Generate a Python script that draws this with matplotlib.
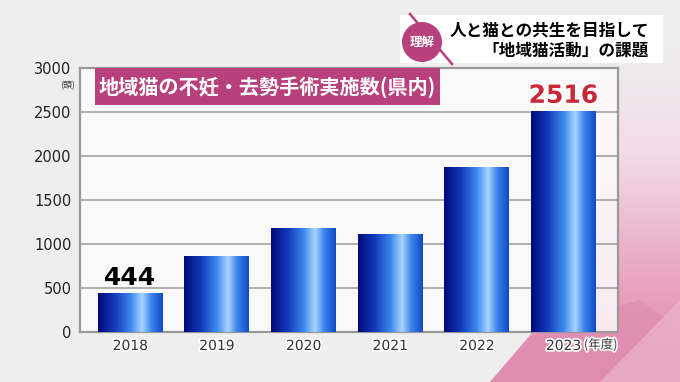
import matplotlib.pyplot as plt
import matplotlib.patheffects as pe
from matplotlib.patches import Polygon, Rectangle, Ellipse
from matplotlib.colors import LinearSegmentedColormap
import numpy as np

plt.rcParams['font.family'] = ['Noto Sans CJK JP', 'DejaVu Sans']

years = ['2018', '2019', '2020', '2021', '2022', '2023']
counts = [444, 860, 1180, 1115, 1875, 2516]
yticks = [0, 500, 1000, 1500, 2000, 2500, 3000]

W, H = 680, 382
fig = plt.figure(figsize=(6.8, 3.82), dpi=100)
fig.patch.set_facecolor('#eeeeee')

# background layer in pixel coordinates (y down)
bg = fig.add_axes([0, 0, 1, 1], zorder=-1)
bg.set_xlim(0, W)
bg.set_ylim(H, 0)
bg.axis('off')
pink_cmap = LinearSegmentedColormap.from_list('pk', ['#eeeeee', '#f2dbe6', '#e9a9c5', '#df86ad'])
vgrad = np.linspace(0, 1, 256).reshape(-1, 1)
im = bg.imshow(vgrad, cmap=pink_cmap, aspect='auto', extent=[480, 680, 382, 40], zorder=0)
clip = Polygon([(600, 40), (680, 40), (680, 382), (490, 382), (560, 300), (600, 200)],
               closed=True, transform=bg.transData, facecolor='none')
im.set_clip_path(clip)
bg.add_patch(Polygon([(490, 382), (545, 325), (640, 300), (680, 330), (680, 382)],
                     closed=True, facecolor='#e08cb0', edgecolor='none', alpha=0.7, zorder=1))
bg.add_patch(Polygon([(600, 382), (680, 300), (680, 382)],
                     closed=True, facecolor='#eab0c9', edgecolor='none', alpha=0.8, zorder=1))

ax = fig.add_axes([80 / W, (H - 332) / H, 538 / W, 264 / H], zorder=2)
ax.set_facecolor((0.985, 0.985, 0.985, 0.85))

bars = ax.bar(range(len(years)), counts, width=0.75, color='none', zorder=3)
grad_cmap = LinearSegmentedColormap.from_list('barg', [
    (0.0, '#000a78'), (0.25, '#1238b8'), (0.5, '#3a86ee'),
    (0.68, '#a9d4ff'), (0.82, '#3c86ea'), (1.0, '#1048c8')])
grad = np.linspace(0, 1, 256).reshape(1, -1)
for b in bars:
    x0, w, h = b.get_x(), b.get_width(), b.get_height()
    g = ax.imshow(grad, cmap=grad_cmap, aspect='auto',
                  extent=[x0, x0 + w, 0, h], zorder=3)
    g.set_clip_path(b)
ax.set_xlim(-0.58, 5.63)
ax.set_ylim(0, 3000)

narrow = dict(family=['DejaVu Sans'])
ax.set_yticks(yticks)
ax.set_yticklabels([str(v) for v in yticks], fontsize=10.5, color='#222222', **narrow)
ax.set_xticks(range(len(years)))
ax.set_xticklabels(years, fontsize=10, color='#333333', **narrow)
for lab in ax.get_xticklabels():
    lab.set_path_effects([pe.withStroke(linewidth=2.5, foreground='white')])
ax.tick_params(length=0, pad=6)
ax.tick_params(axis='x', pad=5)
ax.yaxis.grid(True, color='#aaaaaa', linewidth=1.3, zorder=1)
ax.set_axisbelow(True)
for s in ax.spines.values():
    s.set_color('#999999')
    s.set_linewidth(1.6)

ax.annotate(str(counts[0]), xy=(0, counts[0]), xytext=(0, 2),
            textcoords='offset points', ha='center', va='bottom',
            fontsize=18, fontweight='bold', color='black', **narrow)
ax.annotate(str(counts[-1]), xy=(5, counts[-1]), xytext=(0, 2),
            textcoords='offset points', ha='center', va='bottom',
            fontsize=18, fontweight='bold', color='#c82838', **narrow,
            path_effects=[pe.withStroke(linewidth=3, foreground='white')])

fig.text(584 / W, 1 - 345 / H, '(年度)', fontsize=9, color='#333333',
         ha='left', va='center', zorder=6,
         path_effects=[pe.withStroke(linewidth=2.5, foreground='white')])
fig.text(75 / W, 1 - 86 / H, '(頭)', fontsize=6.5, ha='right', va='center',
         color='#333333', zorder=6)

# title box
fig.patches.append(Rectangle((95 / W, 1 - 105 / H), 345 / W, 37 / H,
                             transform=fig.transFigure, facecolor='#b8407c',
                             edgecolor='none', zorder=5))
fig.text(267 / W, 1 - 87 / H, '地域猫の不妊・去勢手術実施数(県内)', fontsize=14.5,
         fontweight='bold', color='white', ha='center', va='center', zorder=6)

# header
fig.patches.append(Rectangle((400 / W, 1 - 63 / H), 263 / W, 48 / H,
                             transform=fig.transFigure, facecolor='white',
                             edgecolor='none', zorder=5))
fig.lines.append(plt.Line2D([410 / W, 452 / W], [1 - 14 / H, 1 - 64 / H],
                            transform=fig.transFigure, color='#b8407c',
                            linewidth=1.8, zorder=6))
fig.patches.append(Ellipse((422 / W, 1 - 42 / H), 40 / W, 40 / H,
                           transform=fig.transFigure, facecolor='#b8407c',
                           edgecolor='none', zorder=7))
fig.text(422 / W, 1 - 42 / H, '理解', fontsize=9, fontweight='bold', color='white',
         ha='center', va='center', zorder=8)
fig.text(649 / W, 1 - 31 / H, '人と猫との共生を目指して', fontsize=12,
         fontweight='bold', color='black', ha='right', va='center', zorder=8)
fig.text(649 / W, 1 - 51 / H, '「地域猫活動」の課題', fontsize=12,
         fontweight='bold', color='black', ha='right', va='center', zorder=8)

fig.savefig('out.png', dpi=100, facecolor=fig.get_facecolor())
